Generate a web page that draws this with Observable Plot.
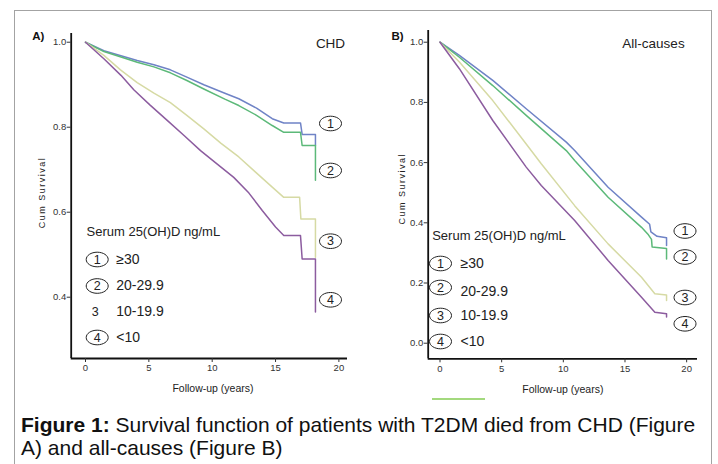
<!DOCTYPE html>
<html><head><meta charset="utf-8">
<script src="https://cdn.jsdelivr.net/npm/d3@7"></script>
<script src="https://cdn.jsdelivr.net/npm/@observablehq/plot@0.6"></script>
<style>
body{margin:0;background:#fff;font-family:"Liberation Sans",Arial,sans-serif;}
#fig{position:relative;width:718px;height:464px;overflow:hidden;background:#fff;}
.frame{position:absolute;left:14px;top:10px;width:698px;height:470px;border:1.5px solid #a3a3a3;box-sizing:border-box;pointer-events:none;}
#pa{position:absolute;left:0;top:0;}
#pb{position:absolute;left:360px;top:0;}
#cap{position:absolute;left:21px;top:412.5px;font-size:21px;line-height:23px;color:#111;white-space:nowrap;}
.greenline{position:absolute;left:432px;top:398px;width:53px;height:2px;background:#a3d97e;}
</style></head><body>
<div id="fig">
<div id="pa"></div><div id="pb"></div>
<div class="greenline"></div>
<div id="cap"><b>Figure 1:</b> Survival function of patients with T2DM died from CHD (Figure<br>A) and all-causes (Figure B)</div>
<div class="frame"></div>
</div>
<script>
// ---- data ----
const groups = ["≥30", "20-29.9", "10-19.9", "<10"];
const groupNums = ["1", "2", "3", "4"];
const colors = ["#6f83c6", "#5cb979", "#d6daa4", "#8c5c9f"];
const xTicks = [0, 5, 10, 15, 20];
const yTicksA = [0.4, 0.6, 0.8, 1.0];
const yTicksB = [0.0, 0.2, 0.4, 0.6, 0.8, 1.0];

// Panel A: CHD  [years, cumulative survival]
const chdGe30 = [[0,1],[1.45,0.98],[2.8,0.968],[4.08,0.957],[5.4,0.947],[6.7,0.935],[8,0.918],[9.34,0.90],[11,0.88],[12.1,0.867],[13.5,0.845],[14.74,0.82],[15.65,0.81],[16.97,0.81],[17.1,0.783],[18.15,0.783],[18.15,0.757]];
const chd20 = [[0,1],[1.45,0.978],[2.8,0.965],[4.08,0.953],[5.4,0.942],[6.7,0.928],[8,0.91],[9.34,0.89],[11,0.866],[12.1,0.851],[13.5,0.828],[14.74,0.804],[15.65,0.788],[16.97,0.788],[17.1,0.757],[18.15,0.757],[18.15,0.675]];
const chd10 = [[0,1],[1.45,0.969],[2.76,0.935],[4.08,0.905],[5.4,0.88],[6.7,0.858],[8,0.828],[9.34,0.796],[10.7,0.762],[12.1,0.73],[13.4,0.695],[14.74,0.659],[15.65,0.635],[16.9,0.635],[17.0,0.584],[18.15,0.584],[18.15,0.494]];
const chdLt10 = [[0,1],[1.45,0.961],[2.8,0.922],[3.81,0.888],[5.1,0.852],[6.45,0.816],[7.8,0.78],[9.08,0.745],[10.4,0.713],[11.7,0.682],[12.9,0.645],[13.95,0.604],[15.0,0.565],[15.65,0.545],[16.97,0.545],[17.1,0.49],[18.15,0.49],[18.15,0.365]];

// Panel B: all-causes
const allGe30 = [[0,1],[1.57,0.956],[4.28,0.873],[6.99,0.779],[10.24,0.668],[10.92,0.64],[13.63,0.518],[16.34,0.419],[17.0,0.395],[17.1,0.37],[17.6,0.355],[18.37,0.35],[18.37,0.325]];
const all20 = [[0,1],[1.57,0.95],[4.28,0.856],[6.99,0.757],[10.24,0.64],[10.92,0.607],[13.63,0.485],[16.34,0.385],[16.9,0.36],[17.15,0.345],[17.2,0.32],[18.37,0.315],[18.37,0.28]];
const all10 = [[0,1],[1.57,0.934],[4.28,0.806],[6.99,0.662],[8.21,0.596],[10.92,0.457],[13.63,0.33],[16.34,0.219],[17.42,0.164],[18.37,0.16],[18.37,0.142]];
const allLt10 = [[0,1],[1.57,0.912],[4.28,0.74],[6.99,0.585],[8.21,0.524],[10.92,0.408],[13.63,0.275],[16.34,0.153],[17.42,0.103],[18.37,0.098],[18.37,0.087]];

const toRows = (series) => series.flatMap((arr, i) => arr.map(([t, s]) => ({t, s, g: groups[i]})));

// ellipse symbol for circled numbers
const ellipse = {
  draw(ctx) {
    const rx = 11, ry = 7.3, k = 0.5523;
    ctx.moveTo(rx, 0);
    ctx.bezierCurveTo(rx, ry * k, rx * k, ry, 0, ry);
    ctx.bezierCurveTo(-rx * k, ry, -rx, ry * k, -rx, 0);
    ctx.bezierCurveTo(-rx, -ry * k, -rx * k, -ry, 0, -ry);
    ctx.bezierCurveTo(rx * k, -ry, rx, -ry * k, rx, 0);
    ctx.closePath();
  }
};

const T = (str, anchor, dx, dy, opts = {}) =>
  Plot.text([str], {text: d => d, frameAnchor: anchor, dx, dy, textAnchor: "middle", lineAnchor: "middle", fill: "#222", ...opts});
const E = (anchor, dx, dy) =>
  Plot.dot([0], {frameAnchor: anchor, dx, dy, symbol: ellipse, fill: "none", stroke: "#222", strokeWidth: 1});

function panel(cfg) {
  const marks = [
    Plot.ruleX([cfg.xDomain[0]], {stroke: "#111", strokeWidth: 1.8}),
    Plot.ruleY([cfg.yDomain[0]], {stroke: "#111", strokeWidth: 1.8}),
    Plot.axisX({ticks: xTicks, tickSize: 4, tickPadding: 2, label: null, fill: "#333"}),
    Plot.axisY({ticks: cfg.yTicks, tickSize: 4, tickPadding: 1, tickFormat: d3.format(".1f"), label: null, fill: "#333"}),
    Plot.line(toRows(cfg.series), {x: "t", y: "s", z: "g", stroke: "g", strokeWidth: 1.5}),
    T(cfg.title, "top-right", cfg.titleDx, cfg.titleDy, {fontSize: 13.5}),
    T(cfg.tag, "top-left", cfg.tagDx, cfg.tagDy, {fontSize: 11.5, fontWeight: "bold", fill: "#111"}),
    T("Follow-up (years)", "bottom", cfg.xlabDx, cfg.xlabDy, {fontSize: 10.5}),
    T("Cum Survival", "left", cfg.ylabDx, cfg.ylabDy, {fontSize: 9, rotate: -90}),
    T("Serum 25(OH)D ng/mL", "top-left", cfg.legTitleDx, cfg.legTitleDy, {fontSize: 13, textAnchor: "start"})
  ];
  groups.forEach((g, i) => {
    if (cfg.plain !== i) marks.push(E("top-left", cfg.legCircDx, cfg.legCircDy[i]));
    marks.push(T(groupNums[i], "top-left", cfg.plain === i ? cfg.legCircDx - 2 : cfg.legCircDx, cfg.legCircDy[i], {fontSize: 12.5}));
    marks.push(T(g, "top-left", cfg.legTextDx, cfg.legTextDy[i], {fontSize: 14, textAnchor: "start"}));
    marks.push(E("top-right", cfg.endDx, cfg.endDy[i]));
    marks.push(T(groupNums[i], "top-right", cfg.endDx, cfg.endDy[i], {fontSize: 12.5}));
  });
  const svg = Plot.plot({
    width: cfg.width, height: 400,
    marginLeft: cfg.ml, marginRight: cfg.mr, marginTop: cfg.mt, marginBottom: cfg.mb,
    x: {domain: cfg.xDomain},
    y: {domain: cfg.yDomain},
    color: {domain: groups, range: colors},
    style: {fontFamily: "'Liberation Sans', Arial, sans-serif", fontSize: "9.5px", color: "#333", background: "none", overflow: "visible"},
    marks
  });
  d3.select(svg).selectAll("text").filter(function () { return this.textContent === "Cum Survival"; })
    .attr("letter-spacing", "1.5px");
  return svg;
}

document.getElementById("pa").appendChild(panel({
  width: 360, ml: 70.7, mr: 13, mt: 33, mb: 42,
  xDomain: [-1.129, 20.68], yDomain: [0.2558, 1.0205], yTicks: yTicksA,
  series: [chdGe30, chd20, chd10, chdLt10],
  title: "CHD", titleDx: -17, titleDy: 9.7,
  tag: "A)", tagDx: -32.9, tagDy: 3,
  xlabDx: 3.6, xlabDy: 29.7, ylabDx: -28.7, ylabDy: -3.5,
  legTitleDx: 15.3, legTitleDy: 198.7,
  legCircDx: 26, legCircDy: [226, 252.5, 278, 304],
  legTextDx: 45, legTextDy: [226, 252.5, 278, 304],
  plain: 2,
  endDx: -17, endDy: [90, 137, 207.7, 266.3]
}));

document.getElementById("pb").appendChild(panel({
  width: 358, ml: 67.7, mr: 21, mt: 30, mb: 41.7,
  xDomain: [-0.957, 20.88], yDomain: [-0.0518, 1.0389], yTicks: yTicksB,
  series: [allGe30, all20, all10, allLt10],
  title: "All-causes", titleDx: -44, titleDy: 13.5,
  tag: "B)", tagDx: -30.7, tagDy: 6,
  xlabDx: 0, xlabDy: 30.7, ylabDx: -26.2, ylabDy: -6,
  legTitleDx: 4, legTitleDy: 205,
  legCircDx: 12.3, legCircDy: [233, 257, 285, 311],
  legTextDx: 32.3, legTextDy: [233, 260.7, 285, 310.7],
  plain: -1,
  endDx: -12.5, endDy: [200.5, 226.5, 267, 293.3]
}));
</script>
</body></html>
